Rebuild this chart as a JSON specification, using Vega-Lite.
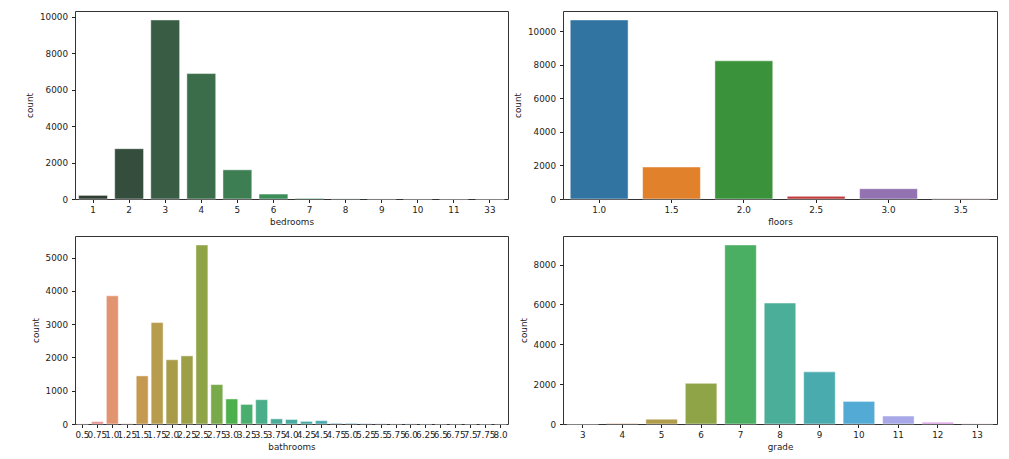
{
  "$schema": "https://vega.github.io/schema/vega-lite/v6.json",
  "background": "white",
  "padding": {"left": 25, "top": 10, "right": 10, "bottom": 5},
  "config": {
    "font": "DejaVu Sans",
    "view": {"stroke": "#333", "strokeWidth": 1},
    "axis": {
      "domain": false,
      "grid": false,
      "tickColor": "#222",
      "tickSize": 3.5,
      "labelFontSize": 8.8,
      "titleFontSize": 8.8,
      "titleFontWeight": "normal",
      "labelColor": "#222",
      "titleColor": "#222",
      "labelPadding": 3,
      "titlePadding": 3
    },
    "axisY": {"labelPadding": 4, "titlePadding": 5, "format": "d"},
    "axisX": {"labelAngle": 0, "labelOverlap": false},
    "bar": {"stroke": "white", "strokeWidth": 0.8, "strokeOpacity": 0.6}
  },
  "resolve": {"scale": {"color": "independent"}},
  "datasets": {
    "bedrooms": [
      {"bedrooms": "1", "count": 199},
      {"bedrooms": "2", "count": 2760},
      {"bedrooms": "3", "count": 9824},
      {"bedrooms": "4", "count": 6882},
      {"bedrooms": "5", "count": 1601},
      {"bedrooms": "6", "count": 272},
      {"bedrooms": "7", "count": 38},
      {"bedrooms": "8", "count": 13},
      {"bedrooms": "9", "count": 6},
      {"bedrooms": "10", "count": 3},
      {"bedrooms": "11", "count": 1},
      {"bedrooms": "33", "count": 1}
    ],
    "floors": [
      {"floors": "1.0", "count": 10680},
      {"floors": "1.5", "count": 1910},
      {"floors": "2.0", "count": 8241},
      {"floors": "2.5", "count": 161},
      {"floors": "3.0", "count": 613},
      {"floors": "3.5", "count": 8}
    ],
    "bathrooms": [
      {"bathrooms": "0.5", "count": 4},
      {"bathrooms": "0.75", "count": 72},
      {"bathrooms": "1.0", "count": 3852},
      {"bathrooms": "1.25", "count": 9},
      {"bathrooms": "1.5", "count": 1446},
      {"bathrooms": "1.75", "count": 3048},
      {"bathrooms": "2.0", "count": 1930},
      {"bathrooms": "2.25", "count": 2047},
      {"bathrooms": "2.5", "count": 5380},
      {"bathrooms": "2.75", "count": 1185},
      {"bathrooms": "3.0", "count": 753},
      {"bathrooms": "3.25", "count": 589},
      {"bathrooms": "3.5", "count": 731},
      {"bathrooms": "3.75", "count": 155},
      {"bathrooms": "4.0", "count": 136},
      {"bathrooms": "4.25", "count": 79},
      {"bathrooms": "4.5", "count": 100},
      {"bathrooms": "4.75", "count": 23},
      {"bathrooms": "5.0", "count": 21},
      {"bathrooms": "5.25", "count": 13},
      {"bathrooms": "5.5", "count": 10},
      {"bathrooms": "5.75", "count": 4},
      {"bathrooms": "6.0", "count": 6},
      {"bathrooms": "6.25", "count": 2},
      {"bathrooms": "6.5", "count": 2},
      {"bathrooms": "6.75", "count": 2},
      {"bathrooms": "7.5", "count": 1},
      {"bathrooms": "7.75", "count": 1},
      {"bathrooms": "8.0", "count": 2}
    ],
    "grade": [
      {"grade": "3", "count": 3},
      {"grade": "4", "count": 29},
      {"grade": "5", "count": 242},
      {"grade": "6", "count": 2038},
      {"grade": "7", "count": 8981},
      {"grade": "8", "count": 6068},
      {"grade": "9", "count": 2615},
      {"grade": "10", "count": 1134},
      {"grade": "11", "count": 399},
      {"grade": "12", "count": 90},
      {"grade": "13", "count": 13}
    ]
  },
  "columns": 2,
  "spacing": {"row": 8, "column": 4},
  "concat": [
    {
      "width": 433,
      "height": 188,
      "data": {"name": "bedrooms"},
      "mark": "bar",
      "encoding": {
        "x": {"field": "bedrooms", "type": "nominal", "sort": null,
              "scale": {"paddingInner": 0.2, "paddingOuter": 0.1}},
        "y": {"field": "count", "type": "quantitative",
              "scale": {"domain": [0, 10315], "nice": false},
              "axis": {"values": [0, 2000, 4000, 6000, 8000, 10000]}},
        "color": {"field": "bedrooms", "type": "nominal", "sort": null, "legend": null,
                  "scale": {"range": ["#2f3d33", "#344d3c", "#385d44", "#3c6d4b", "#3e7e53", "#3c8e59", "#3d9e60", "#4cae6c", "#67bd7e", "#86cb93", "#a6d9a9", "#c4e6c0"]}}
      }
    },
    {
      "width": 434,
      "height": 188,
      "data": {"name": "floors"},
      "mark": "bar",
      "encoding": {
        "x": {"field": "floors", "type": "nominal", "sort": null,
              "scale": {"paddingInner": 0.2, "paddingOuter": 0.1}},
        "y": {"field": "count", "type": "quantitative",
              "scale": {"domain": [0, 11214], "nice": false},
              "axis": {"values": [0, 2000, 4000, 6000, 8000, 10000]}},
        "color": {"field": "floors", "type": "nominal", "sort": null, "legend": null,
                  "scale": {"range": ["#3274a1", "#e1812c", "#3a923a", "#c03d3e", "#9372b2", "#845b53"]}}
      }
    },
    {
      "width": 433,
      "height": 188,
      "data": {"name": "bathrooms"},
      "mark": "bar",
      "encoding": {
        "x": {"field": "bathrooms", "type": "nominal", "sort": null,
              "scale": {"paddingInner": 0.2, "paddingOuter": 0.1}},
        "y": {"field": "count", "type": "quantitative",
              "scale": {"domain": [0, 5649], "nice": false},
              "axis": {"values": [0, 1000, 2000, 3000, 4000, 5000]}},
        "color": {"field": "bathrooms", "type": "nominal", "sort": null, "legend": null,
                  "scale": {"range": ["#e8909a", "#e69290", "#e29470", "#d99959", "#c59a50", "#b79c4d", "#a99c48", "#9d9f47", "#8fa347", "#78a94a", "#4cb04c", "#4aae6e", "#4aae8b", "#49ac99", "#48aaa0", "#49a9a7", "#4aa8b0", "#4ca8bb", "#5aa7c8", "#6fa3d6", "#8ea2e0", "#a7a0e6", "#bb9be6", "#cc96e2", "#d992d9", "#e18fcc", "#e58fbe", "#e790b0", "#e891a4"]}}
      }
    },
    {
      "width": 434,
      "height": 188,
      "data": {"name": "grade"},
      "mark": "bar",
      "encoding": {
        "x": {"field": "grade", "type": "nominal", "sort": null,
              "scale": {"paddingInner": 0.2, "paddingOuter": 0.1}},
        "y": {"field": "count", "type": "quantitative",
              "scale": {"domain": [0, 9430], "nice": false},
              "axis": {"values": [0, 2000, 4000, 6000, 8000]}},
        "color": {"field": "grade", "type": "nominal", "sort": null, "legend": null,
                  "scale": {"range": ["#e68c93", "#d0915a", "#b09c4a", "#8ea446", "#4aaf63", "#4aae99", "#4aabaf", "#53aad4", "#a8a8e8", "#d99ae3", "#e68fb8"]}}
      }
    }
  ]
}
